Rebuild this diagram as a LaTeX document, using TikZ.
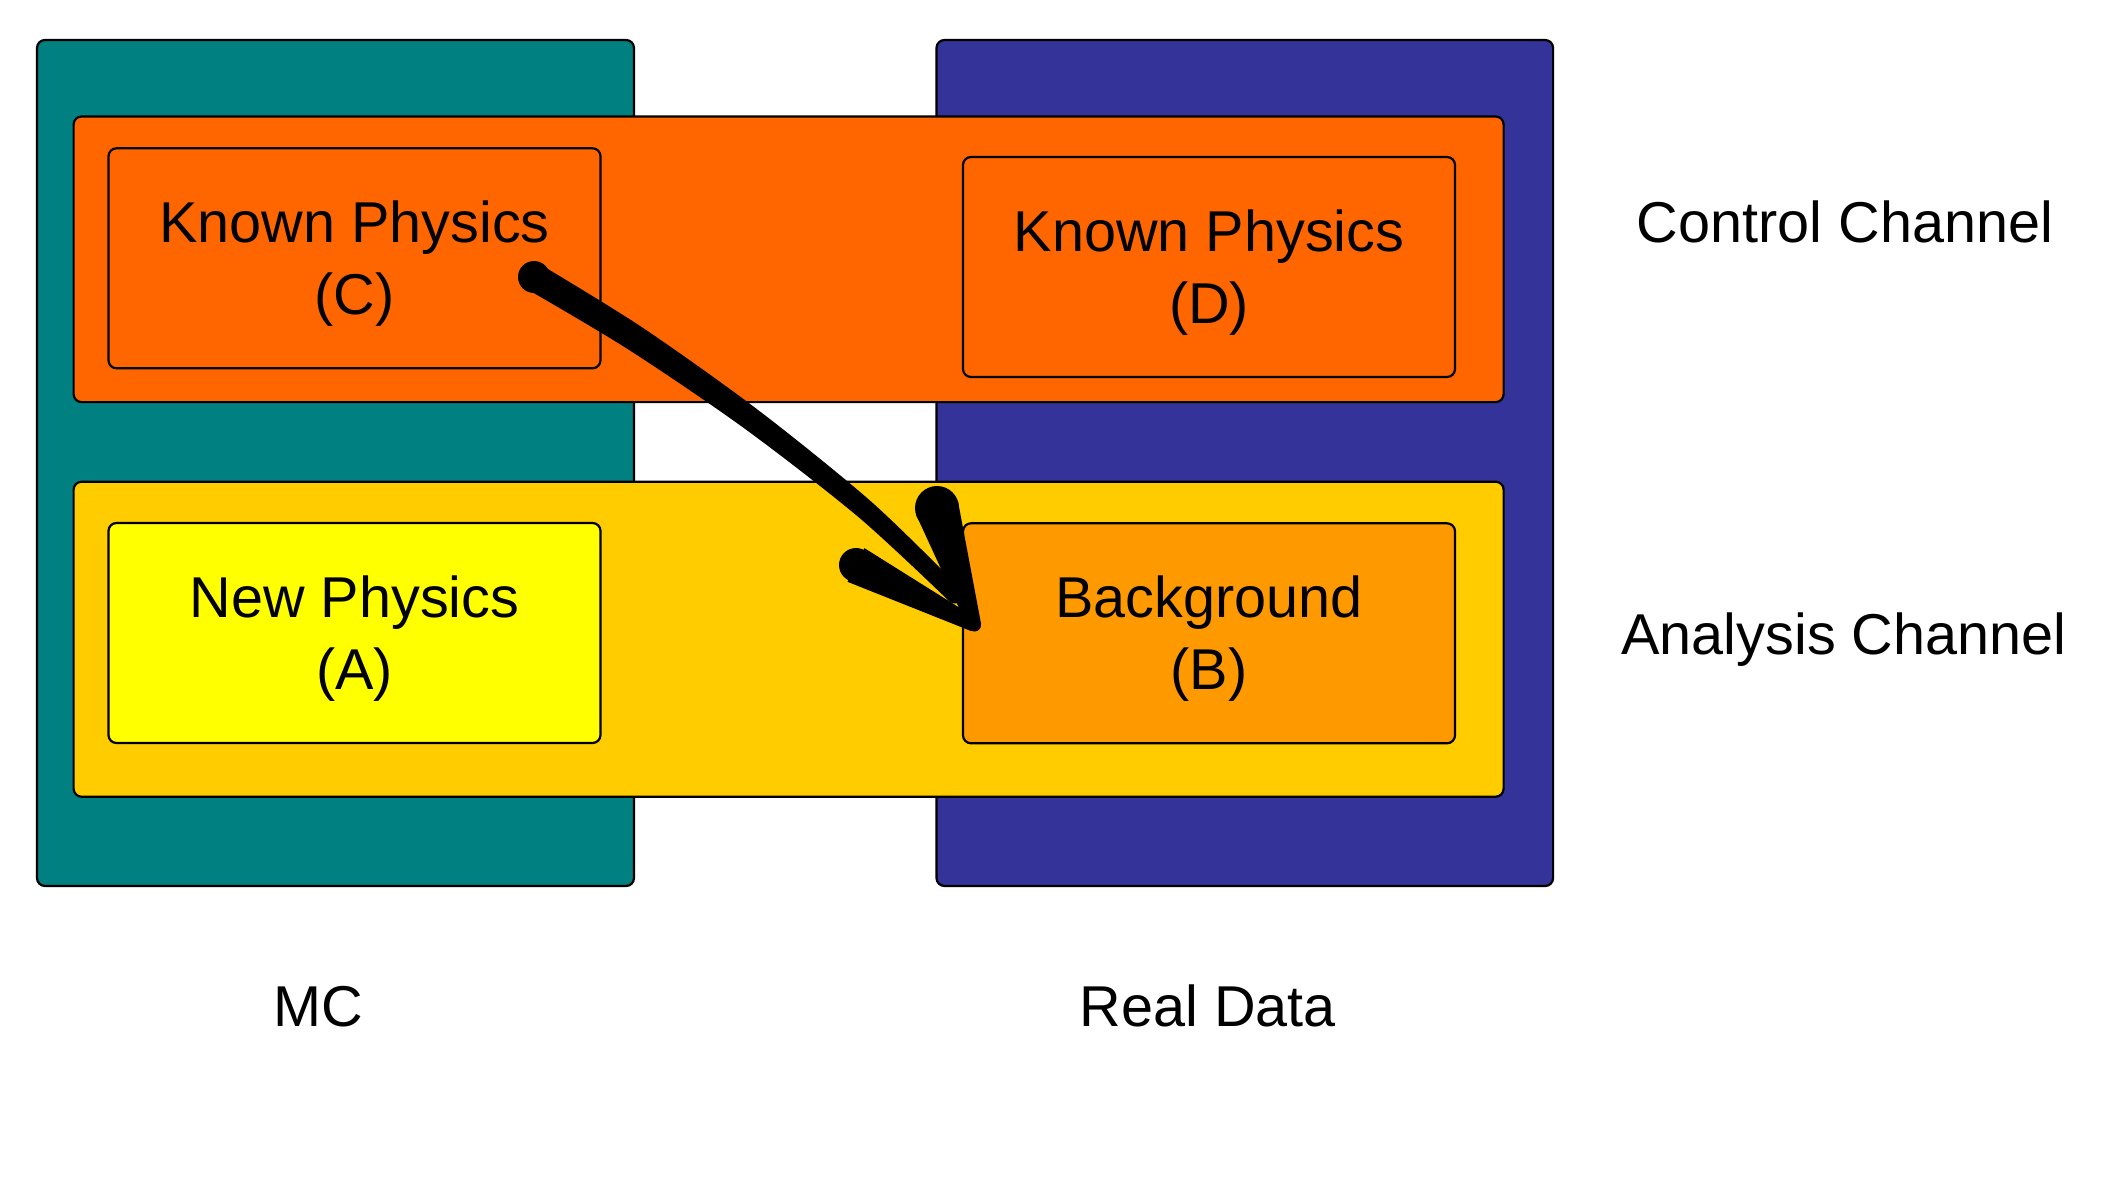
\documentclass[tikz,border=0pt]{standalone}
\usepackage{fontspec}
\setmainfont{Liberation Sans}
\definecolor{mcteal}{HTML}{008080}
\definecolor{rdblue}{HTML}{333399}
\definecolor{ctrlor}{HTML}{FF6600}
\definecolor{anayel}{HTML}{FFCC00}
\definecolor{npyel}{HTML}{FFFF00}
\definecolor{bgor}{HTML}{FF9900}
\begin{document}
\begin{tikzpicture}[x=0.5pt,y=-0.5pt,
  panel/.style={draw=black, line width=1.1pt, rounded corners=4pt, inner sep=0pt},
  boxlbl/.style={panel, font=\fontsize{28.8}{36}\selectfont, align=center, text height=56pt, text depth=0pt, minimum width=246pt, minimum height=110pt},
  side/.style={font=\fontsize{28.8}{36}\selectfont, anchor=base, inner sep=0pt}]
\useasboundingbox[fill=white] (0,0) rectangle (2103,1177);
% columns
\node[panel, fill=mcteal, minimum width=298.5pt, minimum height=423pt] (mc) at (335.5,463) {};
\node[panel, fill=rdblue, minimum width=308.3pt, minimum height=423pt] (rd) at (1244.8,463) {};
% channels
\node[panel, fill=ctrlor, minimum width=715pt, minimum height=142.8pt] (ctrl) at (788.6,259.3) {};
\node[panel, fill=anayel, minimum width=715pt, minimum height=157.5pt] (ana) at (788.6,639.2) {};
% inner boxes
\node[boxlbl, fill=ctrlor] (C) at (354.5,258.3) {Known Physics\\(C)};
\node[boxlbl, fill=ctrlor] (D) at (1209,267) {Known Physics\\(D)};
\node[boxlbl, fill=npyel] (A) at (354.5,633) {New Physics\\(A)};
\node[boxlbl, fill=bgor] (B) at (1209,633.3) {Background\\(B)};
% side labels
\node[side] (cc) at (1845,242) {Control Channel};
\node[side] (ac) at (1844,654) {Analysis Channel};
\node[side] (mcl) at (318,1026) {MC};
\node[side] (rdl) at (1208,1026) {Real Data};
% arrow (hand-drawn style, tapered)
\coordinate (s) at (534,277);
\coordinate (t) at (974.5,625);
\coordinate (bl) at (856,565);
\coordinate (bu) at (937,508);
\fill (s) circle[radius=16];
\fill plot[smooth] coordinates {(527.3,289.3) (628.2,349.4) (744.9,428.8) (858.95,517.5) (948.7,600.7)}
  -- plot[smooth] coordinates {(961.3,589.3) (871.95,502.3) (758.6,410.4) (642.5,327.6) (540.7,264.7)} -- cycle;
\fill (955,595) circle[radius=8.5];
\fill (847.5,581.8) -- (971,631) -- (977.5,619) -- (864.5,548.2) -- cycle;
\fill (bl) circle[radius=17];
\fill (916,514.5) -- (968,627.5) -- (981,623.5) -- (958,501.5) -- cycle;
\fill (bu) circle[radius=22];
\fill (t) circle[radius=6.5];
\end{tikzpicture}
\end{document}
